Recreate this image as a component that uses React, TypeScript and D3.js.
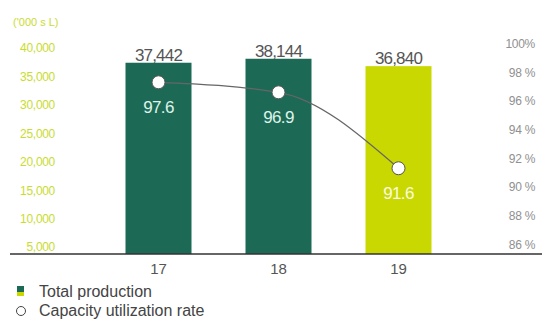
import React from "react";
import * as d3 from "d3";

const categories = ["17", "18", "19"];
const production = [37442, 38144, 36840];
const utilization = [97.6, 96.9, 91.6];
const leftTicks = [5000, 10000, 15000, 20000, 25000, 30000, 35000, 40000];
const rightTicks = [86, 88, 90, 92, 94, 96, 98, 100];
const rightTickLabels = ["86 %", "88 %", "90 %", "92 %", "94 %", "96 %", "98 %", "100%"];
const barColors = ["#1c6a55", "#1c6a55", "#c9d800"];
const pointLabelColors = ["#dff3ea", "#dff3ea", "#fbfbe0"];

const W = 542;
const H = 320;
const baseY = 254;

export default function App() {
  const x = d3.scaleBand<string>().domain(categories).range([98.5, 458.5]).paddingInner(0.45).paddingOuter(0.225);
  const y = d3.scaleLinear().domain([3800, 40000]).range([baseY, 48.2]);
  const yR = d3.scaleLinear().domain([86, 100]).range([248.5, 47.9]);
  const cx = (c: string) => (x(c) as number) + x.bandwidth() / 2;
  const pts: [number, number][] = categories.map((c, i) => [cx(c), yR(utilization[i])]);
  const line = d3.line().curve(d3.curveMonotoneX)(pts) as string;
  const font = "'Liberation Sans', Arial, sans-serif";
  const yellow = "#c8dc30";

  return (
    <svg width={W} height={H} style={{ position: "absolute", left: 0, top: 0, background: "#fff" }} fontFamily={font}>
      <text x={13} y={26} fontSize={11} fill={yellow}>('000 s L)</text>
      {leftTicks.map((t) => (
        <text key={t} x={55} y={y(t)} dy="0.35em" textAnchor="end" fontSize={12} fill={yellow} letterSpacing={-0.3}>
          {d3.format(",")(t)}
        </text>
      ))}
      {rightTicks.map((t, i) => (
        <text key={t} x={535} y={yR(t)} textAnchor="end" fontSize={12} fill="#909090" letterSpacing={-0.3}>
          {rightTickLabels[i]}
        </text>
      ))}
      {categories.map((c, i) => (
        <rect key={c} x={x(c)} y={y(production[i])} width={x.bandwidth()} height={baseY - y(production[i])} fill={barColors[i]} />
      ))}
      <line x1={10} x2={542} y1={baseY} y2={baseY} stroke="#333" strokeWidth={1.5} />
      {categories.map((c, i) => (
        <text key={c} x={cx(c)} y={y(production[i]) - 2} textAnchor="middle" fontSize={17} fill="#555" letterSpacing={-0.8}>
          {d3.format(",")(production[i])}
        </text>
      ))}
      <path d={line} fill="none" stroke="#666" strokeWidth={1.3} />
      {pts.map(([px, py], i) => (
        <g key={i}>
          <circle cx={px} cy={py} r={6.5} fill="#fff" stroke="#555" strokeWidth={1} />
          <text x={px} y={py + 31} textAnchor="middle" fontSize={17} fill={pointLabelColors[i]} letterSpacing={-0.6}>
            {utilization[i].toFixed(1)}
          </text>
        </g>
      ))}
      {categories.map((c) => (
        <text key={c} x={cx(c)} y={274} textAnchor="middle" fontSize={15} fill="#555">
          {c}
        </text>
      ))}
      <rect x={17} y={286} width={7} height={6} fill="#1c6a55" />
      <rect x={17} y={292} width={7} height={4} fill="#c9d800" />
      <text x={39} y={297} fontSize={16} fill="#444">Total production</text>
      <circle cx={21} cy={311} r={4.5} fill="#fff" stroke="#444" strokeWidth={1} />
      <text x={39} y={316} fontSize={16} fill="#444">Capacity utilization rate</text>
    </svg>
  );
}
